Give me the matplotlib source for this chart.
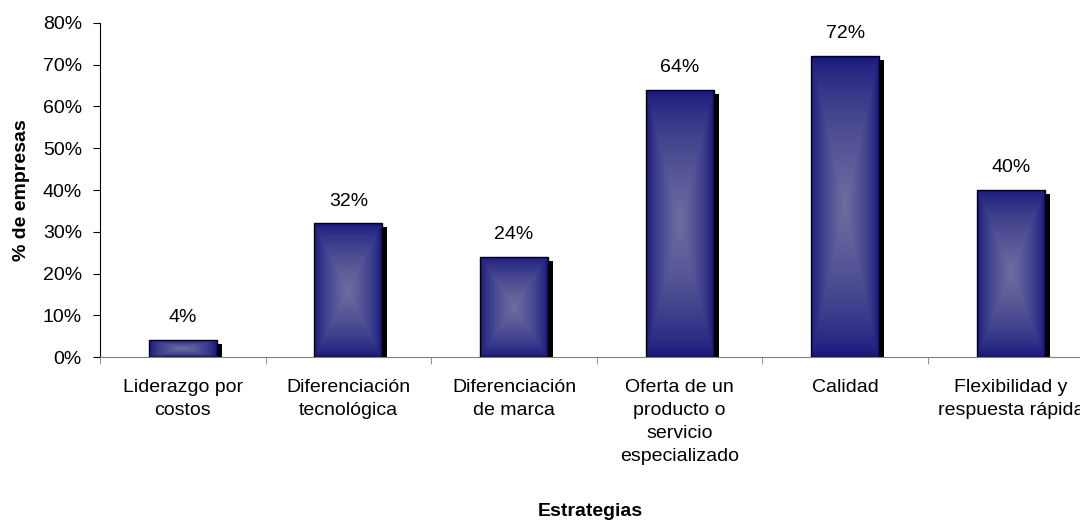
import numpy as np
import matplotlib
matplotlib.use("Agg")
import matplotlib.pyplot as plt
from matplotlib.patches import Rectangle
from matplotlib.transforms import ScaledTranslation
from matplotlib.colors import to_rgb

categories = [
    "Liderazgo por\ncostos",
    "Diferenciación\ntecnológica",
    "Diferenciación\nde marca",
    "Oferta de un\nproducto o\nservicio\nespecializado",
    "Calidad",
    "Flexibilidad y\nrespuesta rápida",
]
values = [4, 32, 24, 64, 72, 40]
yticks = [0, 10, 20, 30, 40, 50, 60, 70, 80]
ytick_labels = [f"{v}%" for v in yticks]

plt.rcParams["font.family"] = ["Liberation Sans", "DejaVu Sans"]

fig = plt.figure(figsize=(10.8, 5.22), dpi=100)
ax = fig.add_axes([0.0926, 0.316, 0.920, 0.640])

x = np.arange(len(values))
bar_w = 0.41

# Shaded bar fill: dark navy border fading into a lighter centre
edge_c = np.array(to_rgb("#14147c"))
mid_c = np.array(to_rgb("#6e6ea0"))
ny, nx = 200, 60
u = np.abs(np.linspace(-1, 1, nx))[None, :]
v = np.abs(np.linspace(-1, 1, ny))[:, None]
t = np.maximum(u, v)
w = (1 - t) ** 0.65
grad = edge_c[None, None, :] * (1 - w[..., None]) + mid_c[None, None, :] * w[..., None]

bars = ax.bar(x, values, width=bar_w, color="none", edgecolor="black",
              linewidth=1.0, zorder=4)

shadow_off = ScaledTranslation(5 / 100, -4 / 100, fig.dpi_scale_trans)
for rect in bars:
    x0, y0 = rect.get_x(), rect.get_y()
    bw, bh = rect.get_width(), rect.get_height()
    sh = Rectangle((x0, y0), bw, bh, facecolor="black", edgecolor="none",
                   transform=ax.transData + shadow_off, zorder=2)
    ax.add_patch(sh)
    im = ax.imshow(grad, extent=(x0, x0 + bw, y0, y0 + bh), aspect="auto",
                   origin="upper", interpolation="bilinear", zorder=3)
    im.set_clip_path(rect)

ax.set_xlim(-0.5, len(values) - 0.5)
ax.set_ylim(0, 80)

for xi, val in zip(x, values):
    ax.annotate(f"{val}%", (xi, val), xytext=(0, 10), textcoords="offset points",
                ha="center", va="bottom", fontsize=14, color="black")

ax.set_yticks(yticks)
ax.set_yticklabels(ytick_labels, fontsize=14)
ax.set_xticks(x)
ax.set_xticklabels(categories, fontsize=14, linespacing=1.45)
ax.set_xticks(np.arange(len(values)) - 0.5, minor=True)
ax.tick_params(axis="x", which="major", length=0, pad=16)
ax.tick_params(axis="x", which="minor", length=5, color="#808080", direction="out")
ax.tick_params(axis="y", length=5, color="black", direction="out", pad=8)

for side in ("top", "right"):
    ax.spines[side].set_visible(False)
ax.spines["left"].set_color("black")
ax.spines["bottom"].set_color("#808080")
ax.spines["bottom"].set_zorder(5)

ax.set_ylabel("% de empresas", fontsize=14, fontweight="bold", labelpad=9)
fig.text(0.547, 0.021, "Estrategias", fontsize=14, fontweight="bold",
         ha="center", va="center")

fig.savefig("out.png", dpi=100)
